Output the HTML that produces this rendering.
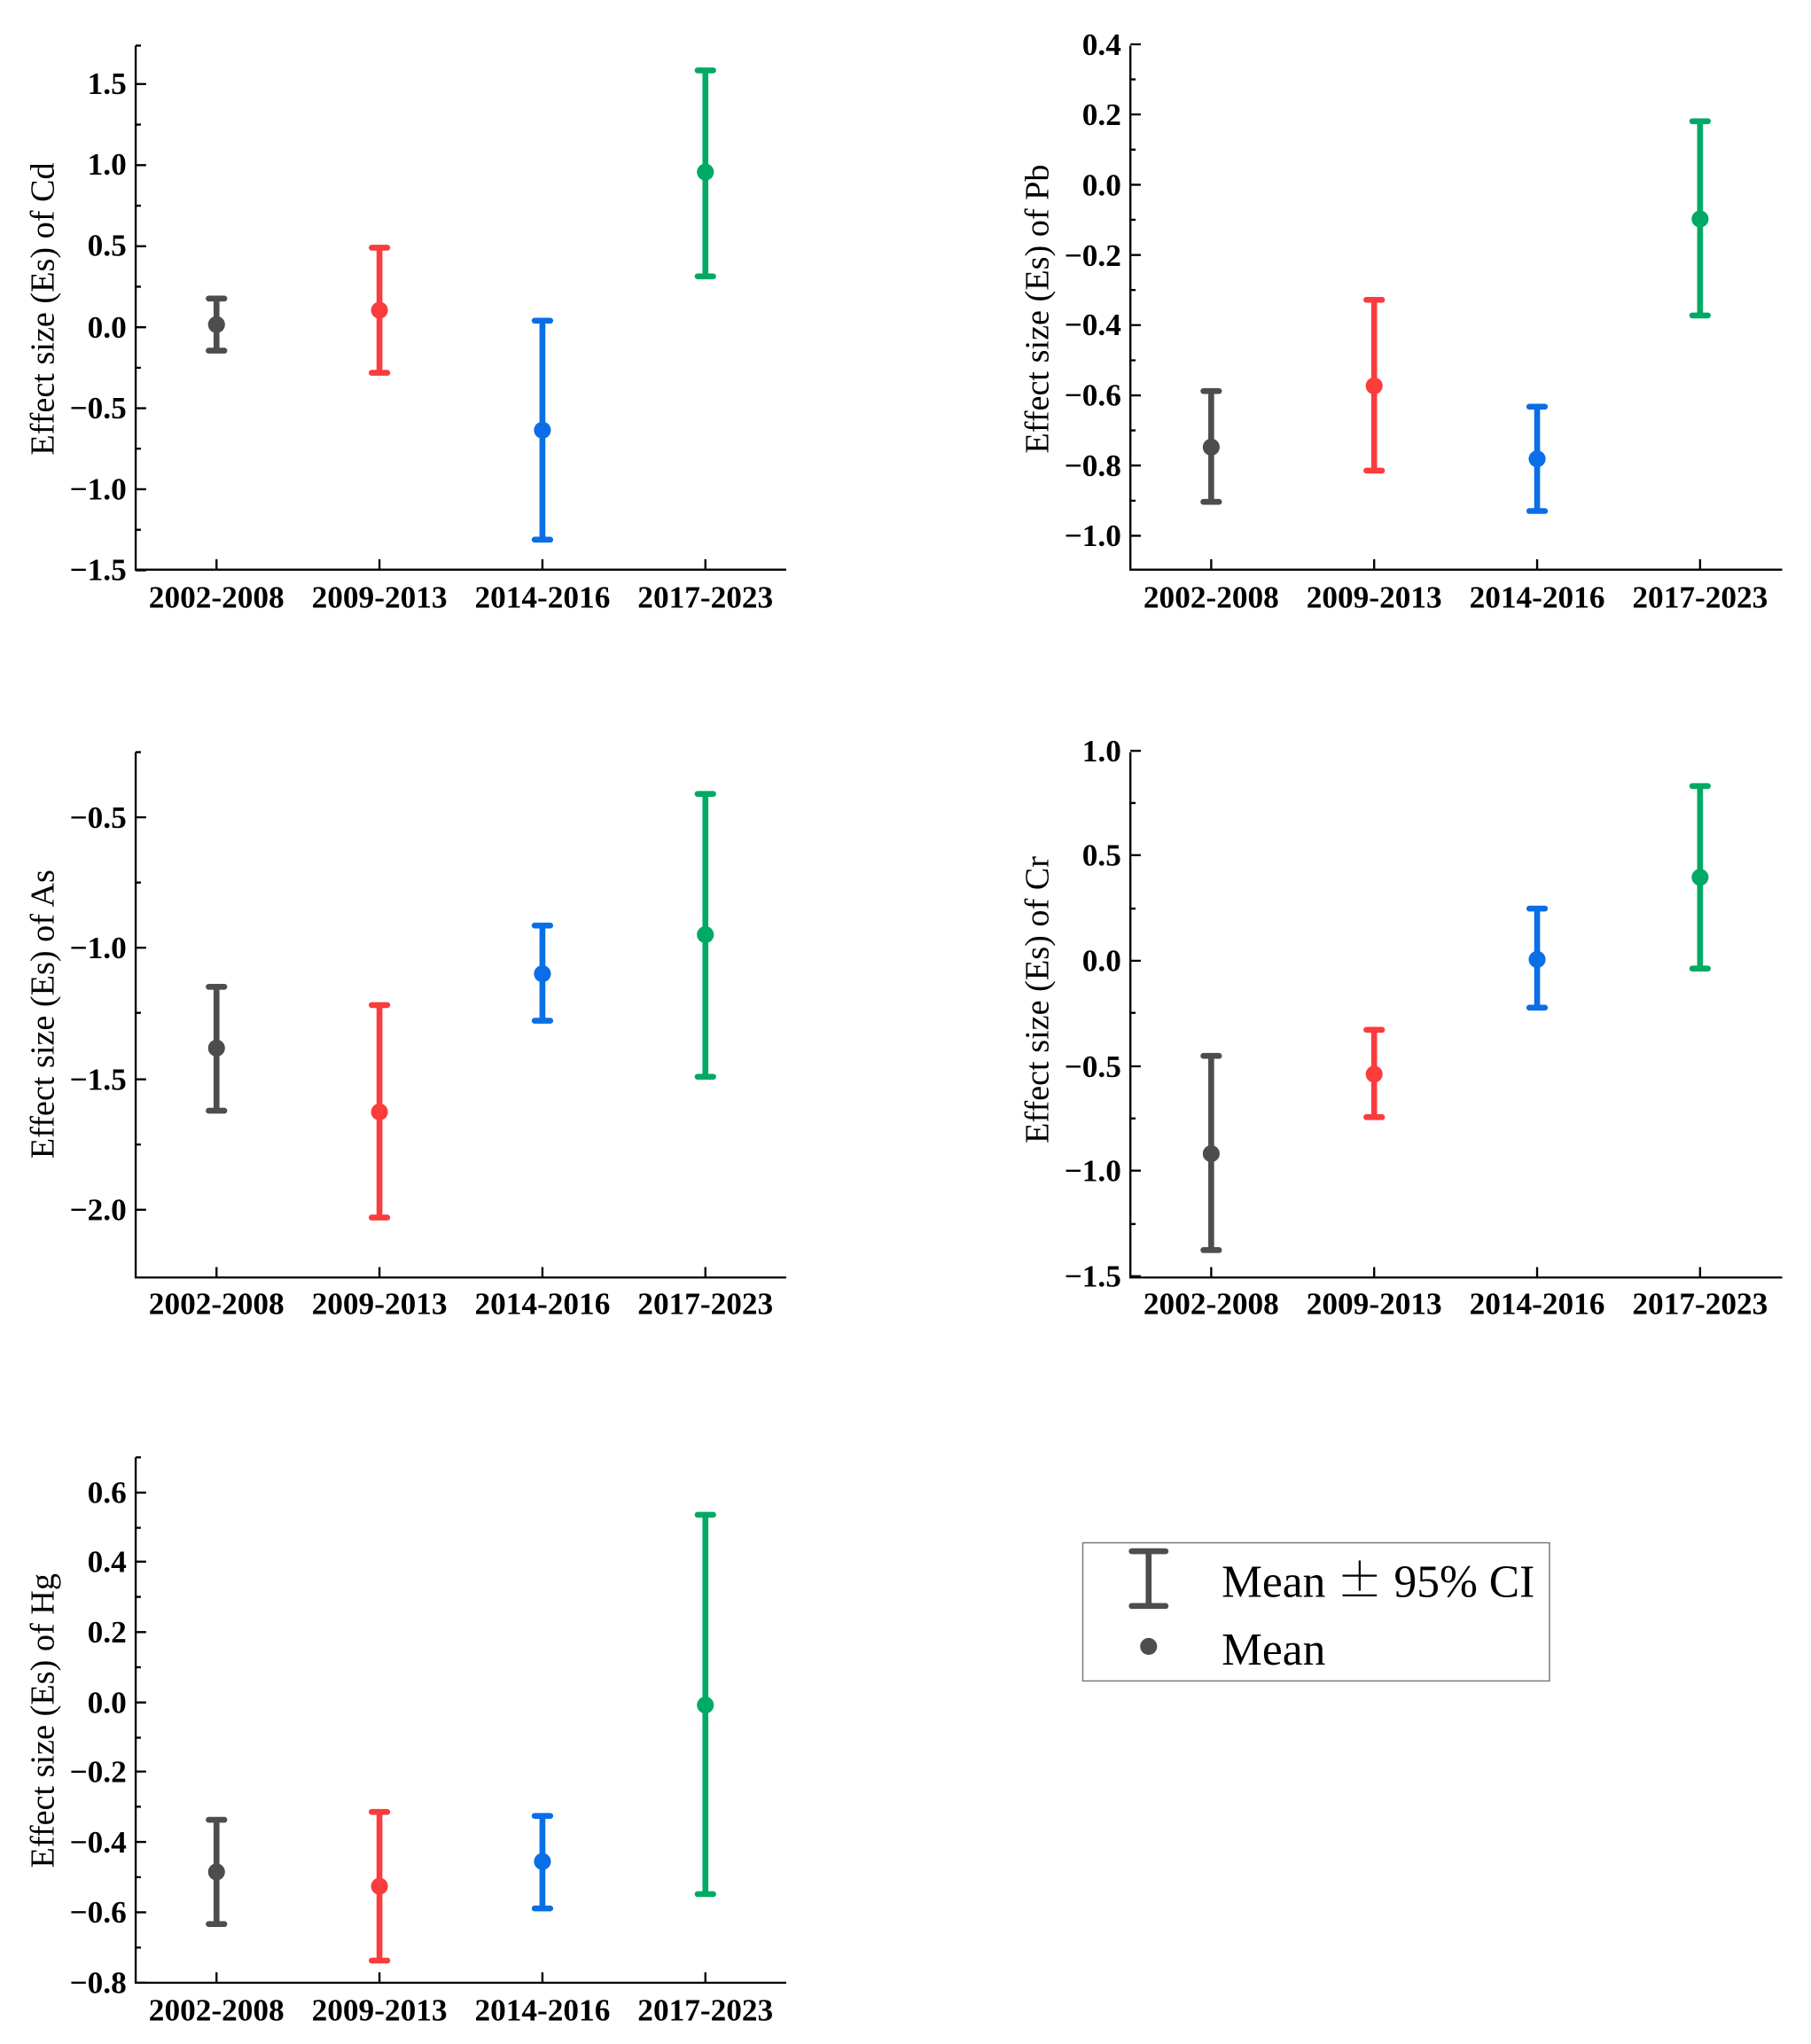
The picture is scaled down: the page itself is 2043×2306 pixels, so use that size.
<!DOCTYPE html>
<html><head><meta charset="utf-8"><style>html,body{margin:0;padding:0;background:#fff}svg{display:block}</style></head>
<body>
<svg xmlns="http://www.w3.org/2000/svg" width="2043" height="2306" viewBox="0 0 1389 1568">
<style>
.ax{stroke:#000;stroke-width:1.6;fill:none}
.tl{font-family:"Liberation Serif",serif;font-weight:bold;font-size:24px;fill:#000}
.yl{font-family:"Liberation Serif",serif;font-size:26px;fill:#000}
.e{stroke-width:4.5;stroke-linecap:round;fill:none}
.g{stroke:#4d4d4d}.r{stroke:#fa3c3c}.b{stroke:#0a6ee6}.n{stroke:#00aa64}
</style>

<!-- Panel 1 Cd -->
<g>
<path class="ax" d="M104 35 V437 H603"/>
<path class="ax" d="M104 64.5h8M104 126.7h8M104 188.9h8M104 251h8M104 313.2h8M104 375.3h8M104 437.5h8M104 95.6h4M104 157.8h4M104 219.9h4M104 282.1h4M104 344.2h4M104 406.4h4M104 35h4M166 437v-8M291 437v-8M416 437v-8M541 437v-8"/>
<g class="tl" text-anchor="end"><text x="97" y="72">1.5</text><text x="97" y="134">1.0</text><text x="97" y="196">0.5</text><text x="97" y="259">0.0</text><text x="97" y="321">−0.5</text><text x="97" y="383">−1.0</text><text x="97" y="445">−1.5</text></g>
<g class="tl" text-anchor="middle"><text x="166" y="466">2002-2008</text><text x="291" y="466">2009-2013</text><text x="416" y="466">2014-2016</text><text x="541" y="466">2017-2023</text></g>
<text class="yl" transform="translate(41 237) rotate(-90)" text-anchor="middle">Effect size (Es) of Cd</text>
<path class="e g" d="M166 229V269M160 229h12M160 269h12"/><circle cx="166" cy="249" r="6.5" fill="#4d4d4d"/>
<path class="e r" d="M291 190V286M285 190h12M285 286h12"/><circle cx="291" cy="238" r="6.5" fill="#fa3c3c"/>
<path class="e b" d="M416 246V414M410 246h12M410 414h12"/><circle cx="416" cy="330" r="6.5" fill="#0a6ee6"/>
<path class="e n" d="M541 54V212M535 54h12M535 212h12"/><circle cx="541" cy="132" r="6.5" fill="#00aa64"/>
</g>

<!-- Panel 2 Pb -->
<g>
<path class="ax" d="M867 35 V437 H1367"/>
<path class="ax" d="M867 34h8M867 87.8h8M867 141.7h8M867 195.6h8M867 249.4h8M867 303.3h8M867 357.1h8M867 411h8M867 60.9h4M867 114.8h4M867 168.6h4M867 222.5h4M867 276.4h4M867 330.2h4M867 384.1h4M929 437v-8M1054 437v-8M1179 437v-8M1304 437v-8"/>
<g class="tl" text-anchor="end"><text x="860" y="42">0.4</text><text x="860" y="96">0.2</text><text x="860" y="150">0.0</text><text x="860" y="204">−0.2</text><text x="860" y="257">−0.4</text><text x="860" y="311">−0.6</text><text x="860" y="365">−0.8</text><text x="860" y="419">−1.0</text></g>
<g class="tl" text-anchor="middle"><text x="929" y="466">2002-2008</text><text x="1054" y="466">2009-2013</text><text x="1179" y="466">2014-2016</text><text x="1304" y="466">2017-2023</text></g>
<text class="yl" transform="translate(804 237) rotate(-90)" text-anchor="middle">Effect size (Es) of Pb</text>
<path class="e g" d="M929 300V385M923 300h12M923 385h12"/><circle cx="929" cy="343" r="6.5" fill="#4d4d4d"/>
<path class="e r" d="M1054 230V361M1048 230h12M1048 361h12"/><circle cx="1054" cy="296" r="6.5" fill="#fa3c3c"/>
<path class="e b" d="M1179 312V392M1173 312h12M1173 392h12"/><circle cx="1179" cy="352" r="6.5" fill="#0a6ee6"/>
<path class="e n" d="M1304 93V242M1298 93h12M1298 242h12"/><circle cx="1304" cy="168" r="6.5" fill="#00aa64"/>
</g>

<!-- Panel 3 As -->
<g>
<path class="ax" d="M104 577 V980 H603"/>
<path class="ax" d="M104 627h8M104 727h8M104 828h8M104 928h8M104 577h4M104 677h4M104 777h4M104 878h4M166 980v-8M291 980v-8M416 980v-8M541 980v-8"/>
<g class="tl" text-anchor="end"><text x="97" y="635">−0.5</text><text x="97" y="735">−1.0</text><text x="97" y="836">−1.5</text><text x="97" y="936">−2.0</text></g>
<g class="tl" text-anchor="middle"><text x="166" y="1008">2002-2008</text><text x="291" y="1008">2009-2013</text><text x="416" y="1008">2014-2016</text><text x="541" y="1008">2017-2023</text></g>
<text class="yl" transform="translate(41 778) rotate(-90)" text-anchor="middle">Effect size (Es) of As</text>
<path class="e g" d="M166 757V852M160 757h12M160 852h12"/><circle cx="166" cy="804" r="6.5" fill="#4d4d4d"/>
<path class="e r" d="M291 771V934M285 771h12M285 934h12"/><circle cx="291" cy="853" r="6.5" fill="#fa3c3c"/>
<path class="e b" d="M416 710V783M410 710h12M410 783h12"/><circle cx="416" cy="747" r="6.5" fill="#0a6ee6"/>
<path class="e n" d="M541 609V826M535 609h12M535 826h12"/><circle cx="541" cy="717" r="6.5" fill="#00aa64"/>
</g>

<!-- Panel 4 Cr -->
<g>
<path class="ax" d="M867 577 V980 H1367"/>
<path class="ax" d="M867 576h8M867 656h8M867 737h8M867 818h8M867 898h8M867 979h8M867 616h4M867 697h4M867 777h4M867 858h4M867 939h4M929 980v-8M1054 980v-8M1179 980v-8M1304 980v-8"/>
<g class="tl" text-anchor="end"><text x="860" y="584">1.0</text><text x="860" y="664">0.5</text><text x="860" y="745">0.0</text><text x="860" y="826">−0.5</text><text x="860" y="906">−1.0</text><text x="860" y="987">−1.5</text></g>
<g class="tl" text-anchor="middle"><text x="929" y="1008">2002-2008</text><text x="1054" y="1008">2009-2013</text><text x="1179" y="1008">2014-2016</text><text x="1304" y="1008">2017-2023</text></g>
<text class="yl" transform="translate(804 767) rotate(-90)" text-anchor="middle">Effect size (Es) of Cr</text>
<path class="e g" d="M929 810V959M923 810h12M923 959h12"/><circle cx="929" cy="885" r="6.5" fill="#4d4d4d"/>
<path class="e r" d="M1054 790V857M1048 790h12M1048 857h12"/><circle cx="1054" cy="824" r="6.5" fill="#fa3c3c"/>
<path class="e b" d="M1179 697V773M1173 697h12M1173 773h12"/><circle cx="1179" cy="736" r="6.5" fill="#0a6ee6"/>
<path class="e n" d="M1304 603V743M1298 603h12M1298 743h12"/><circle cx="1304" cy="673" r="6.5" fill="#00aa64"/>
</g>

<!-- Panel 5 Hg -->
<g>
<path class="ax" d="M104 1118 V1521 H603"/>
<path class="ax" d="M104 1145h8M104 1198h8M104 1252h8M104 1306h8M104 1359h8M104 1413h8M104 1467h8M104 1521h8M104 1118h4M104 1172h4M104 1225h4M104 1279h4M104 1333h4M104 1386h4M104 1440h4M104 1494h4M166 1521v-8M291 1521v-8M416 1521v-8M541 1521v-8"/>
<g class="tl" text-anchor="end"><text x="97" y="1153">0.6</text><text x="97" y="1206">0.4</text><text x="97" y="1260">0.2</text><text x="97" y="1314">0.0</text><text x="97" y="1367">−0.2</text><text x="97" y="1421">−0.4</text><text x="97" y="1475">−0.6</text><text x="97" y="1529">−0.8</text></g>
<g class="tl" text-anchor="middle"><text x="166" y="1550">2002-2008</text><text x="291" y="1550">2009-2013</text><text x="416" y="1550">2014-2016</text><text x="541" y="1550">2017-2023</text></g>
<text class="yl" transform="translate(41 1320) rotate(-90)" text-anchor="middle">Effect size (Es) of Hg</text>
<path class="e g" d="M166 1396V1476M160 1396h12M160 1476h12"/><circle cx="166" cy="1436" r="6.5" fill="#4d4d4d"/>
<path class="e r" d="M291 1390V1504M285 1390h12M285 1504h12"/><circle cx="291" cy="1447" r="6.5" fill="#fa3c3c"/>
<path class="e b" d="M416 1393V1464M410 1393h12M410 1464h12"/><circle cx="416" cy="1428" r="6.5" fill="#0a6ee6"/>
<path class="e n" d="M541 1162V1453M535 1162h12M535 1453h12"/><circle cx="541" cy="1308" r="6.5" fill="#00aa64"/>
</g>

<!-- Legend -->
<rect x="830.5" y="1183.5" width="358" height="106" fill="#fff" stroke="#777" stroke-width="1"/>
<path d="M881 1190V1232M868 1190h26M868 1232h26" stroke="#4d4d4d" stroke-width="4.5" stroke-linecap="round" fill="none"/>
<circle cx="881" cy="1263" r="6.5" fill="#4d4d4d"/>
<text x="937" y="1225" font-family="Liberation Serif, serif" font-size="35">Mean <tspan font-family="Noto Serif CJK SC, serif">±</tspan> 95% CI</text>
<text x="937" y="1277" font-family="Liberation Serif, serif" font-size="35">Mean</text>
</svg>
</body></html>
